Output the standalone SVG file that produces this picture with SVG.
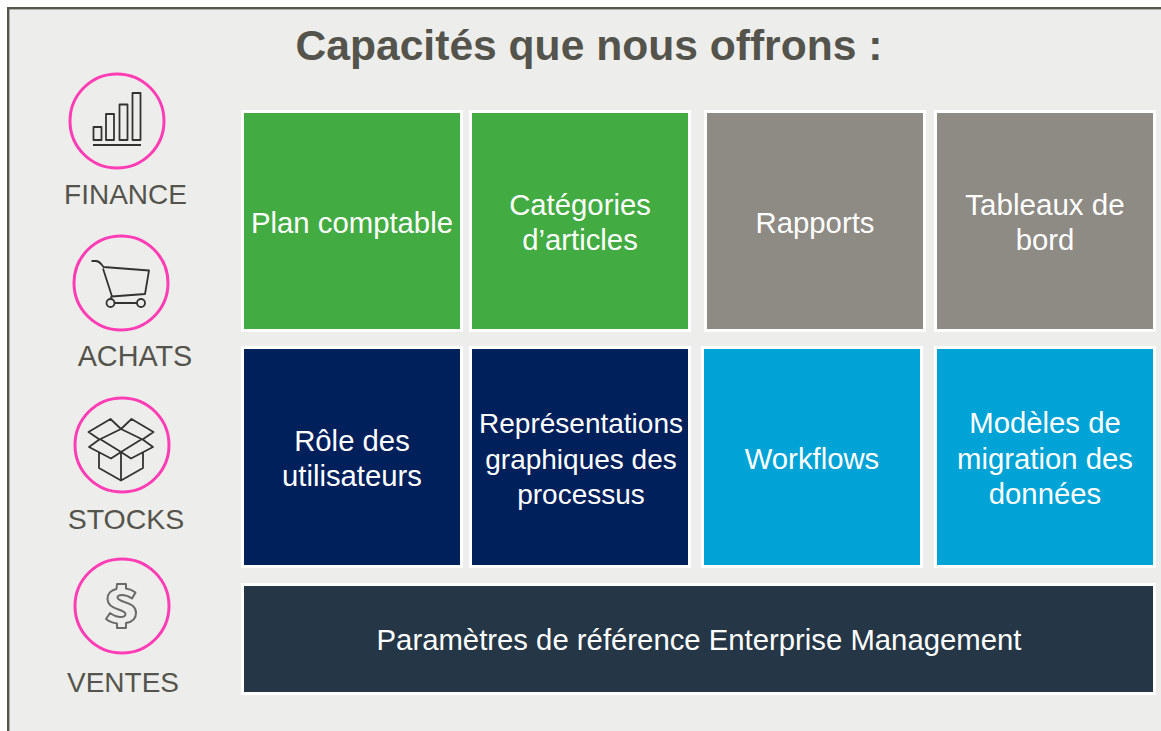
<svg xmlns="http://www.w3.org/2000/svg" width="1161" height="731" viewBox="0 0 1161 731">
<style>
text{font-family:"Liberation Sans",Arial,sans-serif}
.t{fill:#fff;font-size:29.300px;text-anchor:middle}
.s{font-size:28px}
.l{fill:#54544c;font-size:28px;text-anchor:middle}
.r{stroke:#fff;stroke-width:3}
.c{fill:none;stroke:#ff3eb5;stroke-width:3}
.i{fill:none;stroke:#333331;stroke-width:1.800;stroke-linejoin:round}
</style>
<rect width="1161" height="731" fill="#fff"/>
<rect x="8.200" y="8.200" width="1170" height="740" fill="#ededeb" stroke="#54564c" stroke-width="2.400"/>
<text x="589" y="60" font-size="42.600" font-weight="700" fill="#54544c" text-anchor="middle">Capacités que nous offrons :</text>

<g id="finance">
<circle class="c" cx="117" cy="121" r="47"/>
<path class="i" d="M93.500 127h8v13h-8zM106 114h8v26h-8zM119.500 104.500h8v35.500h-8zM132.500 93h8v47h-8zM93 145h48"/>
<text class="l" x="125.500" y="204">FINANCE</text>
</g>
<g id="achats">
<circle class="c" cx="121" cy="283" r="47"/>
<path class="i" d="M91.500 261h4.500q3 0 6 4l1.500 2l45.500 3.500l-4 23.500l-33 2.500l-9-28M112 295l-1.500 4M114.500 303h22.500"/>
<circle class="i" cx="110.500" cy="303" r="4"/><circle class="i" cx="141" cy="303" r="4"/>
<text class="l" x="135" y="366" style="font-size:28.800px">ACHATS</text>
</g>
<g id="stocks">
<circle class="c" cx="122" cy="445" r="47"/>
<path class="i" d="M121 429l-10.500 -10l-22 13l11 7.500l21.500 -10.500l10.500 -10l22 13l-11 7.500l-21.500 -10.500zM100 439l-11 8l22 11.500l10 -6.500l10 6.500l22 -11.500l-11 -8M99 452v16l22 12.500l22 -12.500v-16M121 452v28M100 439l21 13l21 -13"/>
<text class="l" x="126" y="529" style="font-size:28.500px">STOCKS</text>
</g>
<g id="ventes">
<circle class="c" cx="122" cy="606" r="47"/>
<path class="i" style="stroke:#6a6a66;stroke-width:2" d="M117 584h9v4.500c4 .5 7 2 9.500 4l-3.500 6c-3-2-6-3.500-10-3.500c-3 0-4.500 1-4.500 2.500c0 2 2.500 3 7 4.500c6.500 2 11.500 4.500 11.500 11c0 5.500-4 9-10 10v5h-9v-4.500c-4-.5-8-2-11-4.500l4-6c3.500 2.500 7 4 10.500 4c3 0 5-1 5-3c0-2-2.500-3-7-4.500c-6.500-2-11-4.500-11-10.500c0-5.500 4-9 9-10z"/>
<text class="l" x="123" y="692">VENTES</text>
</g>

<g id="plan-comptable"><rect class="r" x="242.500" y="111.500" width="219" height="219" fill="#42ab41"/><text class="t" x="352" y="233">Plan comptable</text></g>
<g id="categories"><rect class="r" x="470.500" y="111.500" width="219" height="219" fill="#42ab41"/><text class="t" x="580" y="215">Catégories</text><text class="t" x="580" y="250">d’articles</text></g>
<g id="rapports"><rect class="r" x="705.500" y="111.500" width="219" height="219" fill="#8e8a84"/><text class="t" x="815" y="233">Rapports</text></g>
<g id="tableaux"><rect class="r" x="935.500" y="111.500" width="219" height="219" fill="#8e8a84"/><text class="t" x="1045" y="215" style="font-size:29.600px">Tableaux de</text><text class="t" x="1045" y="250">bord</text></g>
<g id="role"><rect class="r" x="242.500" y="347.500" width="219" height="219" fill="#00205c"/><text class="t" x="352" y="451">Rôle des</text><text class="t" x="352" y="486">utilisateurs</text></g>
<g id="representations"><rect class="r" x="470.500" y="347.500" width="219" height="219" fill="#00205c"/><text class="t s" x="581" y="433">Représentations</text><text class="t s" x="581" y="469">graphiques des</text><text class="t s" x="581" y="504">processus</text></g>
<g id="workflows"><rect class="r" x="702.500" y="347.500" width="219" height="219" fill="#00a3d6"/><text class="t" x="812" y="469">Workflows</text></g>
<g id="modeles"><rect class="r" x="935.500" y="347.500" width="219" height="219" fill="#00a3d6"/><text class="t" x="1045" y="433">Modèles de</text><text class="t" x="1045" y="469">migration des</text><text class="t" x="1045" y="504">données</text></g>
<g id="parametres"><rect class="r" x="242.500" y="584.500" width="912" height="109" fill="#253746"/><text class="t" x="699" y="650">Paramètres de référence Enterprise Management</text></g>
<g id="connectors"/>
</svg>
